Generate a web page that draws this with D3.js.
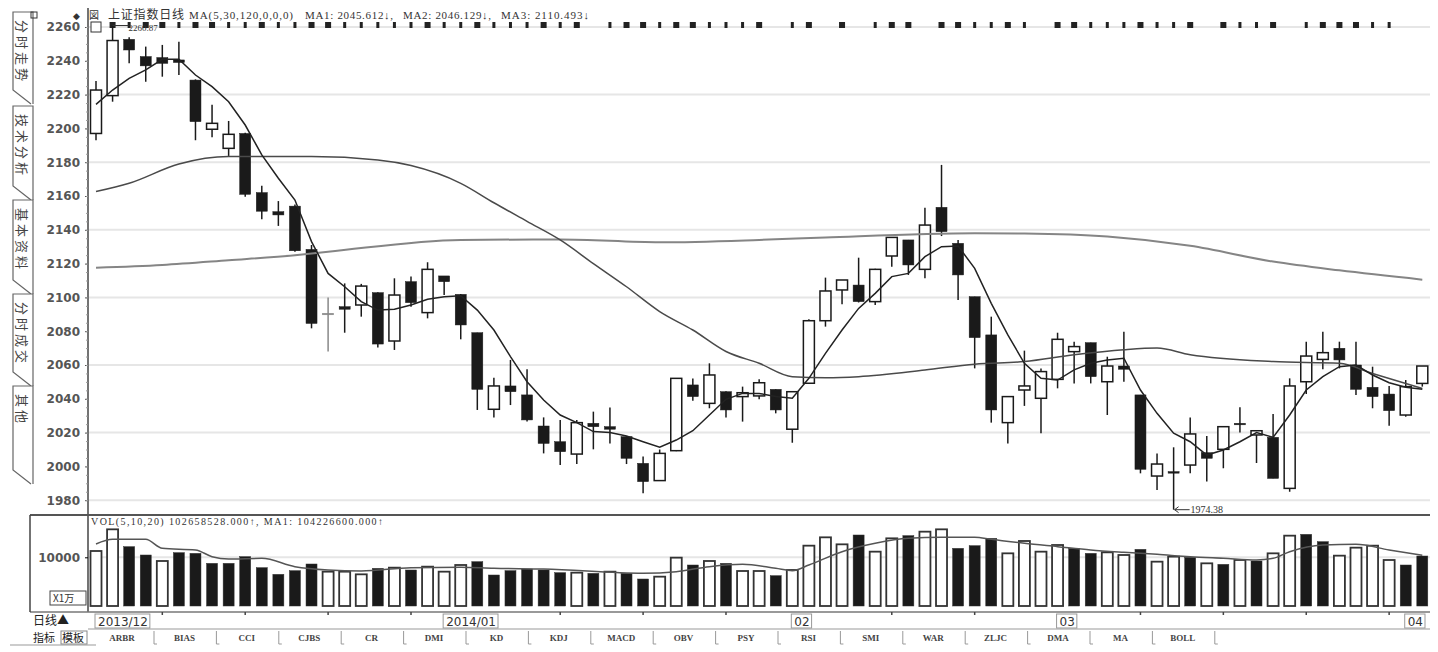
<!DOCTYPE html>
<html>
<head>
<meta charset="utf-8">
<script src="https://cdn.jsdelivr.net/npm/d3@7"></script>
<style>
body { margin: 0; background: #fff; }
svg text { font-family: "Liberation Serif", "DejaVu Serif", serif; }
</style>
</head>
<body>
<div id="chart"></div>
<script>
// daily candles (index 0 = first day of 2013/12 shown)
var openP = [2197, 2219.4, 2252.7, 2242.5, 2241.9, 2240.5, 2228.6, 2199.5, 2188.2, 2197,
    2162, 2150.7, 2154, 2128.4, 2090.6, 2094.5, 2095.5, 2102.8, 2074.2, 2109.3,
    2091, 2112.7, 2101.8, 2079.1, 2033.8, 2047.6, 2042.3, 2023.9, 2014.6, 2007.3,
    2025.5, 2023.5, 2017.6, 2001.8, 1991.6, 2009.3, 2048.2, 2037.3, 2044.2, 2041.3,
    2041.7, 2045.6, 2022, 2049.2, 2086.2, 2104.4, 2107.3, 2097.5, 2124.5, 2134,
    2116.6, 2153.3, 2132, 2100.4, 2077.8, 2025.9, 2045.2, 2040.3, 2051.5, 2067.9,
    2073.2, 2050.1, 2059.4, 2042.3, 1994.3, 1996.9, 2000.8, 2008.1, 2010.1, 2025.5,
    2018.6, 2017.2, 1987, 2050.1, 2063.3, 2069.9, 2060, 2046.8, 2042.8, 2030.4, 2049.1];
var highP = [2228, 2260.87, 2254, 2248.4, 2249.4, 2251.3, 2229, 2214, 2204.4, 2197.5,
    2166, 2157, 2155, 2131, 2100, 2108.3, 2108, 2103, 2111.3, 2112.3,
    2120.8, 2112.7, 2102, 2079.1, 2052.5, 2063, 2057.5, 2029, 2027.5, 2027.5,
    2032.4, 2034.8, 2018, 2005.8, 2010, 2052.1, 2052, 2061, 2044.5, 2047.2,
    2051.5, 2045.6, 2044.5, 2087, 2111.7, 2110.3, 2123.5, 2117, 2135.5, 2134,
    2153, 2178.4, 2134, 2100.4, 2088.6, 2041.3, 2068.5, 2058, 2079.1, 2073.8,
    2073.2, 2064.9, 2079.7, 2042.3, 2007.7, 2011.3, 2029, 2018, 2023.5, 2035,
    2021.1, 2031, 2052.1, 2073.8, 2079.7, 2073.8, 2073.8, 2059, 2047.6, 2051.1, 2059.4];
var lowP = [2193, 2215.8, 2238.5, 2227.6, 2230.6, 2231.6, 2193, 2194.7, 2183.7, 2159.6,
    2146.2, 2142.3, 2127, 2081.7, 2068, 2079.1, 2088.6, 2070.4, 2068.9, 2094.5,
    2087.6, 2101.4, 2075.2, 2033.4, 2029, 2036.3, 2026.5, 2007.7, 2000.8, 2001.4,
    2010.1, 2013.6, 2001.4, 1984.1, 1991.5, 2009, 2038.9, 2034.4, 2029, 2026.5,
    2039.7, 2031.4, 2014, 2049, 2082.7, 2096, 2097, 2095.5, 2118.2, 2113.3,
    2111.3, 2136.3, 2098.5, 2058, 2025.9, 2013.6, 2035.8, 2019.6, 2046.2, 2049.1,
    2049.1, 2030.4, 2050.1, 1995.9, 1986, 1974.38, 1995.9, 1991, 1998.9, 2020,
    2002, 1993, 1985, 2042.8, 2057.5, 2058, 2042.3, 2034.4, 2024, 2029.4, 2047.2];
var closeP = [2222.7, 2252, 2246.4, 2237, 2238.5, 2239, 2204, 2203, 2196.5, 2161,
    2151, 2148.8, 2127.6, 2084.6, 2090.2, 2093, 2106.7, 2072.4, 2101.4, 2096.9,
    2116.6, 2109.3, 2083.7, 2045.6, 2047.6, 2044.2, 2027.5, 2013.6, 2008.7, 2025.9,
    2023.5, 2022, 2004.8, 1991, 2007.7, 2052.1, 2041.3, 2054.1, 2033.4, 2043.6,
    2049.5, 2033.4, 2044.2, 2086.2, 2103.8, 2110.3, 2097.5, 2116.6, 2135.5, 2119.2,
    2142.8, 2138.9, 2113.3, 2076.2, 2033.4, 2041.3, 2047.6, 2056.1, 2075.2, 2070.9,
    2053.1, 2059.4, 2057.5, 1998.3, 2001.4, 1996, 2019.2, 2004.8, 2023.5, 2025.3,
    2021.1, 1992.9, 2047.6, 2065.3, 2067.3, 2063, 2045.6, 2041.3, 2033, 2047.2, 2059.4];

// moving averages as drawn
var ma5 = [2214.2, 2222.7, 2229.6, 2234.6, 2240.9, 2240.9, 2231.6, 2224.7, 2215.8, 2202,
    2184.3, 2170.5, 2157.6, 2133, 2114.2, 2106.3, 2097.5, 2092.5, 2093, 2095.5,
    2098.9, 2100.4, 2101, 2092.5, 2080.7, 2065, 2050.1, 2039.3, 2030.4, 2025.9,
    2020.6, 2020, 2018, 2014.6, 2011.3, 2015.6, 2021.1, 2030.4, 2039.7, 2043.2,
    2043.2, 2041.3, 2040.3, 2052.1, 2066.9, 2080.7, 2093.5, 2102.4, 2112.3, 2114.2,
    2124.1, 2130, 2130.4, 2117.2, 2096.5, 2077.8, 2061, 2052.1, 2051.1, 2057.1,
    2061, 2063, 2064, 2045.2, 2031.4, 2019.6, 2014.6, 2006.7, 2009.7, 2014.6,
    2020, 2017.2, 2030.4, 2045.2, 2053.1, 2059, 2060, 2054.1, 2049.5, 2046.8, 2045.6];
var ma30Idx = [0, 2, 5, 8, 13, 17, 19, 22, 24, 26, 28, 30, 32, 34, 36, 38, 40, 42, 44, 46, 50, 53, 56, 59, 62, 64, 66, 71, 75, 77, 80];
var ma30Val = [2162.6, 2167.5, 2178.9, 2183.3, 2183.3, 2181.3, 2178, 2167.5, 2156, 2145, 2134, 2120, 2106.3, 2091.6, 2080.7, 2068, 2061, 2053.1, 2052.5, 2053.1, 2057, 2060.5, 2062, 2066, 2069, 2070, 2066, 2062, 2061, 2055, 2046.1];
var ma120Idx = [0, 4, 8, 12, 14, 22, 28, 34, 40, 44, 53, 56, 61, 66, 71, 75, 80];
var ma120Val = [2117.6, 2119.2, 2122, 2125, 2127, 2134, 2134.3, 2132.6, 2134, 2135.5, 2138, 2137.8, 2136, 2130.5, 2121.2, 2116, 2110.5];

// volume in 万
var vol = [11294, 15744, 12184, 10473, 9241, 10952, 10815, 8762, 8762, 10131,
    7872, 6503, 7256, 8625, 7050, 7050, 6503, 7735, 7872, 7393,
    8077, 7050, 8419, 9104, 6366, 7256, 7598, 7393, 6845, 6845,
    6708, 7050, 6708, 5544, 6024, 9925, 8419, 9241, 8762, 7187,
    7187, 6229, 7393, 12389, 14101, 12663, 14580, 11157, 13895, 14443,
    15264, 15744, 11842, 12389, 13895, 10815, 13348, 11157, 12526, 11842,
    10815, 11020, 10473, 11637, 9104, 10131, 9994, 8762, 8556, 9446,
    9241, 10815, 14443, 14717, 13211, 10336, 11979, 12389, 9446, 8419, 10266];
var volUp = '1100100000000011101011100' + '00001010011010110111101101100' + '011110011011010101100111100011';
var volMaIdx = [0, 1, 3, 4, 6, 7, 8, 10, 12, 14, 16, 19, 22, 24, 27, 33, 35, 37, 39, 41, 42, 43, 45, 47, 49, 51, 53, 54, 56, 58, 60, 62, 64, 66, 68, 70, 71, 72, 74, 76, 78, 80];
var volMaVal = [12732, 13690, 13690, 11842, 11500, 10131, 9651, 9788, 8077, 7393, 7187, 7872, 7950, 7735, 7598, 6708, 7050, 8077, 8556, 7735, 7256, 8419, 11157, 12869, 13895, 14101, 14101, 13690, 12869, 12184, 11500, 11020, 10610, 10131, 9788, 9446, 9788, 11157, 12526, 12663, 11500, 10423];

var priceTicks = [1980, 2000, 2020, 2040, 2060, 2080, 2100, 2120, 2140, 2160, 2180, 2200, 2220, 2240, 2260];
var gridTicks = [1980, 2020, 2060, 2100, 2140, 2180, 2220, 2260];
var monthIdx = [0, 21, 42, 58, 79];
var monthLabels = ['2013/12', '2014/01', '02', '03', '04'];
var weekIdx = [4, 9, 14, 19, 28, 33, 38, 48, 53, 63, 68, 73, 78];
var mineSkip = [30, 41, 44, 46, 50, 57, 67, 72, 79, 80];
var mineWide = 'nwnwwnwwnnwnnwwnnnnnwnnwnnnwnwwnwwnwwnnnwwnwnwnnwwnwwnnwnnwwnnnwnnwnwnnwwnwwwnnn';
var tabNames = ['分时走势', '技术分析', '基本资料', '分时成交', '其他'];
var tabTop = [12, 106, 200, 294, 386];
var tabBottom = [90, 186, 280, 372, 470];
var indNames = ['ARBR', 'BIAS', 'CCI', 'CJBS', 'CR', 'DMI', 'KD', 'KDJ', 'MACD', 'OBV', 'PSY', 'RSI', 'SMI', 'WAR', 'ZLJC', 'DMA', 'MA', 'BOLL'];

var W = 1438, H = 652;
var svg = d3.select('#chart').append('svg').attr('width', W).attr('height', H);

var x = d3.scaleLinear().domain([0, 80]).range([96, 1422.3]);
var y = d3.scaleLinear().domain([1980, 2260]).range([500.2, 27]);
var yv = d3.scaleLinear().domain([0, 10000]).range([606, 557.3]);
var bodyW = 11;

// grid
svg.append('g').selectAll('line').data(gridTicks).enter().append('line')
    .attr('x1', 89).attr('x2', 1430)
    .attr('y1', function (d) { return y(d); }).attr('y2', function (d) { return y(d); })
    .attr('stroke', '#e6e6e6').attr('stroke-width', 2);
svg.append('line').attr('x1', 89).attr('x2', 1430).attr('y1', yv(10000)).attr('y2', yv(10000))
    .attr('stroke', '#e6e6e6').attr('stroke-width', 2);

// left tabs
var tabs = svg.append('g');
tabNames.forEach(function (name, k) {
    var t = tabTop[k], b = tabBottom[k];
    tabs.append('path')
        .attr('d', 'M33,' + (b + 14) + ' L33,' + t + ' L13,' + t + ' L13,' + b + ' L31,' + (b + 14))
        .attr('fill', '#fff').attr('stroke', '#666').attr('stroke-width', 1.2);
    tabs.append('text')
        .attr('transform', 'translate(17,' + (t + 8) + ') rotate(90)')
        .style('font-family', '"Noto Sans CJK SC", sans-serif')
        .style('font-size', '13px').style('letter-spacing', '3px')
        .attr('fill', '#444').text(name);
});
svg.append('rect').attr('x', 31).attr('y', 12).attr('width', 6).attr('height', 6)
    .attr('fill', 'none').attr('stroke', '#333');

// frames
svg.append('line').attr('x1', 88).attr('x2', 88).attr('y1', 8).attr('y2', 612).attr('stroke', '#444').attr('stroke-width', 1.5);
svg.append('line').attr('x1', 30).attr('x2', 1430).attr('y1', 515).attr('y2', 515).attr('stroke', '#555').attr('stroke-width', 2);
svg.append('line').attr('x1', 30).attr('x2', 1430).attr('y1', 612).attr('y2', 612).attr('stroke', '#777').attr('stroke-width', 1.5);
svg.append('line').attr('x1', 88).attr('x2', 1430).attr('y1', 629).attr('y2', 629).attr('stroke', '#999').attr('stroke-width', 1);
svg.append('line').attr('x1', 30).attr('x2', 30).attr('y1', 515).attr('y2', 612).attr('stroke', '#444').attr('stroke-width', 1.5);
svg.append('line').attr('x1', 10).attr('x2', 96).attr('y1', 645).attr('y2', 645).attr('stroke', '#999');

// price axis
var yAxis = svg.append('g').attr('transform', 'translate(88,0)')
    .call(d3.axisLeft(y).tickValues(priceTicks).tickSize(3).tickPadding(5).tickFormat(d3.format('d')));
yAxis.select('.domain').remove();
yAxis.selectAll('text').style('font-family', '"DejaVu Sans", sans-serif').style('font-weight', 'bold')
    .style('font-size', '12px').attr('fill', '#555');
yAxis.selectAll('line').attr('stroke', '#555');
svg.append('g').attr('transform', 'translate(88,0)')
    .call(d3.axisLeft(y).tickValues(d3.range(1980, 2261, 5)).tickSize(2).tickFormat(''))
    .call(function (g) { g.select('.domain').remove(); g.selectAll('line').attr('stroke', '#999'); });

// volume axis
var vAxis = svg.append('g').attr('transform', 'translate(88,0)')
    .call(d3.axisLeft(yv).tickValues([10000]).tickSize(3).tickPadding(5).tickFormat(d3.format('d')));
vAxis.select('.domain').remove();
vAxis.selectAll('text').style('font-family', '"DejaVu Sans", sans-serif').style('font-weight', 'bold')
    .style('font-size', '12px').attr('fill', '#555');
svg.append('rect').attr('x', 50).attr('y', 591).attr('width', 36).attr('height', 14)
    .attr('fill', '#fff').attr('stroke', '#444');
svg.append('text').attr('x', 53).attr('y', 602).style('font-family', '"Noto Sans CJK SC", sans-serif')
    .style('font-size', '10px').attr('fill', '#333').text('X1万');

// header line with markers
var mines = d3.range(0, 81).filter(function (i) { return mineSkip.indexOf(i) < 0; });
svg.append('g').selectAll('rect').data(mines).enter().append('rect')
    .attr('x', function (i) { return x(i) - (mineWide[i] === 'w' ? 3 : 1.5); })
    .attr('y', 22)
    .attr('width', function (i) { return mineWide[i] === 'w' ? 6 : 3; })
    .attr('height', 6).attr('fill', '#222');

var hdr = svg.append('g').attr('fill', '#333').style('font-size', '11px');
hdr.append('text').attr('x', 73).attr('y', 19).style('font-size', '9px').text('◆');
hdr.append('text').attr('x', 89).attr('y', 19).style('font-family', '"Noto Sans CJK SC", sans-serif').style('font-size', '10px').text('図');
hdr.append('text').attr('x', 108).attr('y', 19).style('font-family', '"Noto Sans CJK SC", sans-serif')
    .style('font-size', '12px').attr('textLength', 76).text('上证指数日线');
hdr.append('text').attr('x', 189).attr('y', 19).attr('textLength', 104).text('MA(5,30,120,0,0,0)');
hdr.append('text').attr('x', 305).attr('y', 19).attr('textLength', 88).text('MA1: 2045.612↓,');
hdr.append('text').attr('x', 403).attr('y', 19).attr('textLength', 88).text('MA2: 2046.129↓,');
hdr.append('text').attr('x', 501).attr('y', 19).attr('textLength', 88).text('MA3: 2110.493↓');
svg.append('rect').attr('x', 91).attr('y', 22).attr('width', 10).attr('height', 10)
    .attr('fill', '#fff').attr('stroke', '#333');

// candles
var candles = svg.append('g');
d3.range(0, 81).forEach(function (i) {
    var up = closeP[i] >= openP[i];
    var doji = Math.abs(closeP[i] - openP[i]) < 1;
    var col = i === 14 ? '#888' : '#1a1a1a';
    candles.append('line')
        .attr('x1', x(i)).attr('x2', x(i))
        .attr('y1', y(highP[i])).attr('y2', y(lowP[i]))
        .attr('stroke', col).attr('stroke-width', 1.5);
    var top = y(Math.max(openP[i], closeP[i]));
    var h = Math.max(1.5, y(Math.min(openP[i], closeP[i])) - top);
    candles.append('rect')
        .attr('x', x(i) - bodyW / 2).attr('y', top)
        .attr('width', bodyW).attr('height', h)
        .attr('fill', up && !doji ? '#fff' : col)
        .attr('stroke', col).attr('stroke-width', up && !doji ? 1.5 : 0.5);
});

// moving average lines
var maG = svg.append('g').attr('fill', 'none');
maG.append('path')
    .datum(ma120Idx.map(function (d, k) { return [d, ma120Val[k]]; }))
    .attr('d', d3.line().x(function (d) { return x(d[0]); }).y(function (d) { return y(d[1]); }).curve(d3.curveMonotoneX))
    .attr('stroke', '#858585').attr('stroke-width', 2);
maG.append('path')
    .datum(ma30Idx.map(function (d, k) { return [d, ma30Val[k]]; }))
    .attr('d', d3.line().x(function (d) { return x(d[0]); }).y(function (d) { return y(d[1]); }).curve(d3.curveMonotoneX))
    .attr('stroke', '#4a4a4a').attr('stroke-width', 1.5);
maG.append('path')
    .datum(ma5)
    .attr('d', d3.line().x(function (d, i) { return x(i); }).y(function (d) { return y(d); }))
    .attr('stroke', '#222').attr('stroke-width', 1.5);

// extreme labels
svg.append('line').attr('x1', x(1)).attr('x2', x(1) + 16).attr('y1', y(2260.87)).attr('y2', y(2260.87)).attr('stroke', '#333');
svg.append('text').attr('x', x(1) + 16).attr('y', 31).style('font-size', '9px').attr('fill', '#333').text('2260.87');
svg.append('path')
    .attr('d', 'M' + (x(65) + 1) + ',' + y(1974.38) + ' L' + (x(65) + 16) + ',' + y(1974.38) +
        ' M' + (x(65) + 1) + ',' + y(1974.38) + ' l4,-3 M' + (x(65) + 1) + ',' + y(1974.38) + ' l4,3')
    .attr('stroke', '#333').attr('fill', 'none');
svg.append('text').attr('x', x(65) + 17).attr('y', y(1974.38) + 3.5).style('font-size', '10px').attr('fill', '#333').text('1974.38');

// volume
var vG = svg.append('g');
vG.selectAll('rect').data(vol).enter().append('rect')
    .attr('x', function (d, i) { return x(i) - bodyW / 2; })
    .attr('y', function (d) { return yv(d); })
    .attr('width', bodyW)
    .attr('height', function (d) { return yv(0) - yv(d); })
    .attr('fill', function (d, i) { return volUp[i] === '1' ? '#fff' : '#1a1a1a'; })
    .attr('stroke', '#333')
    .attr('stroke-width', function (d, i) { return volUp[i] === '1' ? 1.8 : 0.5; });
svg.append('path')
    .datum(volMaIdx.map(function (d, k) { return [d, volMaVal[k]]; }))
    .attr('d', d3.line().x(function (d) { return x(d[0]); }).y(function (d) { return yv(d[1]); }).curve(d3.curveMonotoneX))
    .attr('fill', 'none').attr('stroke', '#555').attr('stroke-width', 1.5);
svg.append('text').attr('x', 91).attr('y', 525).style('font-size', '10px').attr('fill', '#333')
    .attr('textLength', 292).text('VOL(5,10,20) 102658528.000↑, MA1: 104226600.000↑');

// date strip
svg.append('text').attr('x', 33).attr('y', 625).style('font-family', '"Noto Sans CJK SC", sans-serif')
    .style('font-size', '12px').attr('fill', '#222').text('日线▲');
svg.append('g').selectAll('line').data(weekIdx).enter().append('line')
    .attr('x1', function (d) { return x(d); }).attr('x2', function (d) { return x(d); })
    .attr('y1', 612).attr('y2', 615).attr('stroke', '#444').attr('stroke-width', 1.5);
monthIdx.forEach(function (d, k) {
    var lx = x(d) - 1;
    var t = svg.append('text').attr('x', lx + 3).attr('y', 626)
        .style('font-family', '"DejaVu Sans", sans-serif').style('font-size', '12px')
        .attr('fill', '#333').text(monthLabels[k]);
    var bw = t.node().getComputedTextLength() + 5;
    svg.append('rect').attr('x', lx).attr('y', 614).attr('width', bw).attr('height', 14)
        .attr('fill', 'none').attr('stroke', '#999');
});

// indicator tabs
svg.append('text').attr('x', 33).attr('y', 642).style('font-family', '"Noto Sans CJK SC", sans-serif')
    .style('font-size', '11px').attr('fill', '#222').text('指标');
svg.append('rect').attr('x', 61).attr('y', 631).attr('width', 26).attr('height', 13)
    .attr('fill', 'none').attr('stroke', '#888');
svg.append('text').attr('x', 62).attr('y', 642).style('font-family', '"Noto Sans CJK SC", sans-serif')
    .style('font-size', '11px').attr('fill', '#222').text('模板');
var ind = svg.append('g');
indNames.forEach(function (name, k) {
    var cx = 122 + 62.4 * k;
    ind.append('text').attr('x', cx).attr('y', 641).attr('text-anchor', 'middle')
        .style('font-size', '9px').style('font-weight', 'bold').attr('fill', '#444').text(name);
    ind.append('path')
        .attr('d', 'M' + (cx + 32) + ',631 L' + (cx + 32) + ',644 L' + (cx + 35) + ',644')
        .attr('fill', 'none').attr('stroke', '#999');
});
</script>
</body>
</html>
